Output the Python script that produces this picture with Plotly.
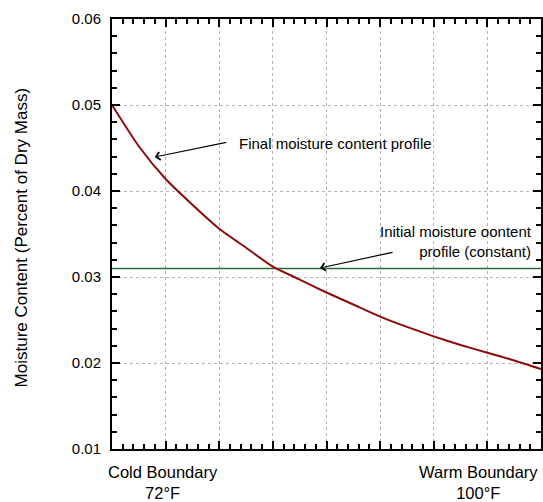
import plotly.graph_objects as go

# Data
temps_f = [72.0, 73.75, 75.5, 77.25, 79.0, 80.75, 82.5, 84.25, 86.0,
           87.75, 89.5, 91.25, 93.0, 94.75, 96.5, 98.25, 100.0]
final_mc = [0.0500, 0.0452, 0.0414, 0.0384, 0.0356, 0.0334, 0.0312, 0.0297, 0.0282,
            0.0268, 0.0254, 0.0242, 0.0231, 0.0221, 0.0212, 0.0203, 0.0193]
initial_mc = [0.031, 0.031]
initial_x = [72.0, 100.0]
y_ticks = [0.01, 0.02, 0.03, 0.04, 0.05, 0.06]

FONT = "Liberation Sans, Arial, sans-serif"

fig = go.Figure()
fig.add_trace(go.Scatter(x=initial_x, y=initial_mc, mode="lines",
                         line=dict(color="#2E6B34", width=1.5), hoverinfo="skip"))
fig.add_trace(go.Scatter(x=temps_f, y=final_mc, mode="lines",
                         line=dict(color="#8B0A0A", width=2, shape="spline", smoothing=0.6),
                         hoverinfo="skip"))

L, T, W, H = 112, 19, 431, 430
def px(x):
    return (x - L) / W
def py(y):
    return (T + H - y) / H

annotations = [
    dict(x=px(155), y=py(157), ax=73, ay=-15, text="", showarrow=True,
         arrowhead=4, arrowsize=1.3, arrowwidth=1.2, arrowcolor="black"),
    dict(x=px(238), y=py(143), text="Final moisture content profile", showarrow=False,
         xanchor="left", yanchor="middle"),
    dict(x=px(321), y=py(268), ax=74, ay=-16, text="", showarrow=True,
         arrowhead=4, arrowsize=1.3, arrowwidth=1.2, arrowcolor="black"),
    dict(x=px(536), y=py(242), text="Initial moisture oontent<br>profile (constant)",
         showarrow=False, xanchor="right", yanchor="middle", align="right"),
    dict(x=px(163), y=py(482), text="Cold Boundary<br>72°F", showarrow=False,
         xanchor="center", yanchor="middle", align="center", font=dict(size=16.5)),
    dict(x=px(480), y=py(482), text="Warm Boundary<br>100°F", showarrow=False,
         xanchor="center", yanchor="middle", align="center", font=dict(size=16.5)),
    dict(x=px(21), y=py(238), text="Moisture Content (Percent of Dry Mass)", showarrow=False,
         textangle=-90, xanchor="center", yanchor="middle", font=dict(size=17)),
]
for a in annotations:
    a.setdefault("xref", "paper")
    a.setdefault("yref", "paper")

fig.update_layout(
    width=543, height=502,
    margin=dict(l=L, r=543 - L - W, t=T, b=502 - T - H),
    paper_bgcolor="white", plot_bgcolor="white",
    showlegend=False,
    font=dict(family=FONT, size=15, color="black"),
    annotations=annotations,
)
fig.update_xaxes(
    range=[72, 100], tickmode="linear", dtick=3.5, tick0=72, showticklabels=False,
    showgrid=True, gridcolor="#b4b4b4", griddash="dot", gridwidth=1,
    showline=True, linecolor="black", linewidth=2, mirror="allticks",
    ticks="inside", ticklen=8, tickcolor="black", tickwidth=2,
    minor=dict(tickmode="linear", dtick=0.7, tick0=72, ticks="inside", ticklen=5,
               tickcolor="black", tickwidth=1.6, showgrid=False),
    zeroline=False,
)
fig.update_yaxes(
    range=[y_ticks[0], y_ticks[-1]], tickmode="linear", tick0=y_ticks[0],
    dtick=y_ticks[1] - y_ticks[0], tickformat=".2f",
    showgrid=True, gridcolor="#b4b4b4", griddash="dot", gridwidth=1,
    showline=True, linecolor="black", linewidth=2, mirror="allticks",
    ticks="inside", ticklen=8, tickcolor="black", tickwidth=2,
    minor=dict(tickmode="linear", dtick=0.002, tick0=y_ticks[0], ticks="inside", ticklen=5,
               tickcolor="black", tickwidth=1.6, showgrid=False),
    tickfont=dict(size=15), ticklabelstandoff=6,
    zeroline=False,
)

fig.write_html("out.html")
